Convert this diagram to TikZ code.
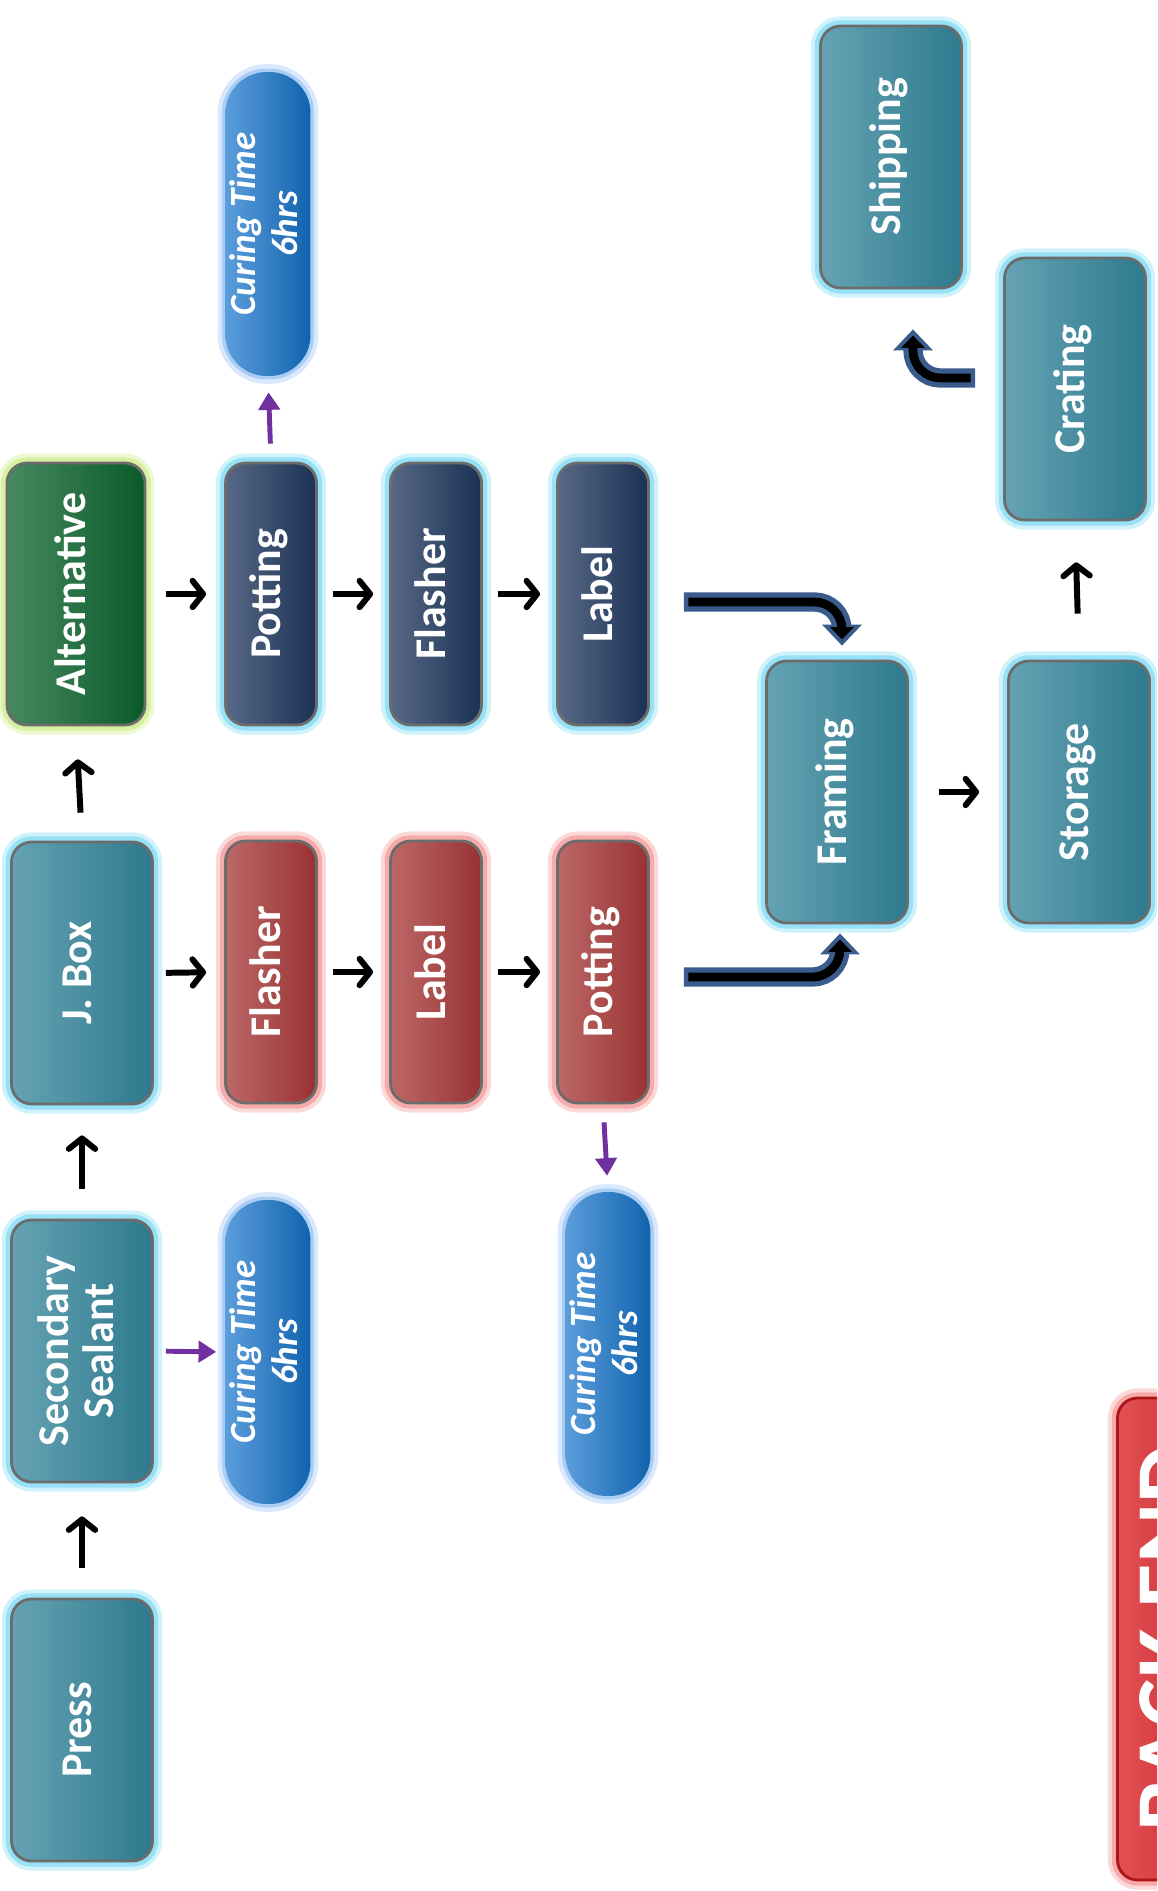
\documentclass[tikz,border=0pt]{standalone}
\usepackage{fontspec}
\setmainfont{Carlito}
\usepackage{xcolor}
\usetikzlibrary{arrows.meta,positioning}

\definecolor{tealbox}{RGB}{50,132,154}
\definecolor{navybox}{RGB}{30,54,92}
\definecolor{redbox}{RGB}{166,54,54}
\definecolor{greenbox}{RGB}{10,98,44}
\definecolor{curebox}{RGB}{20,116,204}
\definecolor{backred}{RGB}{215,25,30}
\definecolor{cyanglow}{RGB}{150,225,246}
\definecolor{pinkglow}{RGB}{246,170,170}
\definecolor{limeglow}{RGB}{215,240,160}
\definecolor{blueglow}{RGB}{170,205,246}
\definecolor{purplearr}{RGB}{112,48,160}
\definecolor{bentblue}{RGB}{58,92,140}

\newcommand{\rottext}[1]{\rotatebox{90}{\begin{tabular}{@{}c@{}}#1\end{tabular}}}

\tikzset{
  box/.style 2 args={rectangle,rounded corners=0.4cm,inner sep=0pt,
    minimum width=2.82cm,minimum height=5.24cm,text=white,
    font=\fontsize{25}{26}\selectfont\bfseries,
    draw=gray!85!black,line width=1.6pt,
    left color=#1!75!white,middle color=#1,right color=#1!92!black,
    preaction={draw=#2!45!white,line width=11pt},
    preaction={draw=#2,line width=6.5pt}},
  cure/.style={rectangle,rounded corners=0.82cm,inner sep=0pt,
    minimum width=1.7cm,minimum height=6.08cm,text=white,
    font=\fontsize{21}{24}\selectfont\bfseries\itshape,
    left color=curebox!70!white,middle color=curebox,right color=curebox!85!black,
    preaction={draw=blueglow!45!white,line width=9pt},
    preaction={draw=blueglow,line width=4pt}},
  arr/.style={line width=3.4pt,-{Straight Barb[round,length=6pt,width=15pt]}},
  parr/.style={draw=purplearr,line width=2.8pt,-{Triangle[length=10pt,width=12pt]}},
  bentout/.style={draw=bentblue,line width=11pt,rounded corners=0.55cm,
    -{Triangle[length=12pt,width=22pt]}},
  bentin/.style={draw=black,line width=5pt,rounded corners=0.55cm,
    shorten >=3.5pt,shorten <=2.5pt,-{Triangle[length=7pt,width=13pt]}}
}

\begin{document}
\begin{tikzpicture}[x=0.02cm,y=-0.02cm]
\useasboundingbox (0,0) rectangle (1157,1891);
\clip (0,0) rectangle (1157,1891);

\node[box={tealbox}{cyanglow}] (1) at (82,1730) {\rottext{Press}};
\node[box={tealbox}{cyanglow}] (2) at (82,1351) {\rottext{Secondary\\Sealant}};
\node[box={tealbox}{cyanglow}] (3) at (82,973) {\rottext{J. Box}};
\node[box={greenbox}{limeglow},minimum width=2.76cm] (4) at (76,594) {\rottext{Alternative}};
\node[cure] (5) at (268,224) {\rottext{Curing Time\\6hrs}};
\node[box={navybox}{cyanglow},minimum width=1.82cm] (6) at (271,594) {\rottext{Potting}};
\node[box={navybox}{cyanglow},minimum width=1.82cm] (7) at (436,594) {\rottext{Flasher}};
\node[box={navybox}{cyanglow},minimum width=1.82cm] (8) at (603,594) {\rottext{Label}};
\node[box={redbox}{pinkglow},minimum width=1.82cm] (9) at (271,972) {\rottext{Flasher}};
\node[box={redbox}{pinkglow},minimum width=1.82cm] (10) at (436,972) {\rottext{Label}};
\node[box={redbox}{pinkglow},minimum width=1.82cm] (11) at (603,972) {\rottext{Potting}};
\node[cure] (12) at (268,1352) {\rottext{Curing Time\\6hrs}};
\node[cure] (13) at (608,1344) {\rottext{Curing Time\\6hrs}};
\node[box={tealbox}{cyanglow}] (14) at (837,792) {\rottext{Framing}};
\node[box={tealbox}{cyanglow}] (15) at (1079,792) {\rottext{Storage}};
\node[box={tealbox}{cyanglow}] (16) at (1075,389) {\rottext{Crating}};
\node[box={tealbox}{cyanglow}] (17) at (891,157) {\rottext{Shipping}};
\node[box={backred}{pinkglow},minimum width=2.5cm,minimum height=9.64cm,
  draw=backred!80!black,font=\fontsize{52}{56}\selectfont\bfseries] (18) at (1180,1639) {\rottext{BACK END}};

\draw[arr,shorten <=0.6cm,shorten >=0.66cm] (1.north) -- (2.south);
\draw[arr,shorten <=0.6cm,shorten >=0.6cm] (2.north) -- (3.south);
\draw[arr,shorten <=0.56cm,shorten >=0.66cm] (3.north) -- (4.south);
\draw[arr,shorten <=0.4cm,shorten >=0.36cm] (4.east) -- (6.west);
\draw[arr,shorten <=0.3cm,shorten >=0.32cm] (6.east) -- (7.west);
\draw[arr,shorten <=0.3cm,shorten >=0.32cm] (7.east) -- (8.west);
\draw[arr,shorten <=0.24cm,shorten >=0.36cm] (3.east) -- (9.west);
\draw[arr,shorten <=0.3cm,shorten >=0.32cm] (9.east) -- (10.west);
\draw[arr,shorten <=0.3cm,shorten >=0.32cm] (10.east) -- (11.west);
\draw[arr,shorten <=0.6cm,shorten >=0.56cm] (14.east) -- (15.west);
\draw[arr,shorten <=0.92cm,shorten >=0.82cm] (15.north) -- (16.south);

\draw[parr,shorten <=0.36cm,shorten >=0.32cm] (6.north) -- (5.south);
\draw[parr,shorten <=0.24cm,shorten >=0.18cm] (2.east) -- (12.west);
\draw[parr,shorten <=0.36cm,shorten >=0.32cm] (11.south) -- (13.north);

\draw[bentout] ([xshift=0.68cm,yshift=-0.16cm]8.east) -| ([xshift=0.1cm,yshift=0.28cm]14.north);
\draw[bentin] ([xshift=0.68cm,yshift=-0.16cm]8.east) -| ([xshift=0.1cm,yshift=0.28cm]14.north);
\draw[bentout] ([xshift=0.68cm,yshift=-0.1cm]11.east) -| ([xshift=0.06cm,yshift=-0.18cm]14.south);
\draw[bentin] ([xshift=0.68cm,yshift=-0.1cm]11.east) -| ([xshift=0.06cm,yshift=-0.18cm]14.south);
\draw[bentout] ([xshift=-0.56cm,yshift=0.22cm]16.west) -| ([xshift=0.44cm,yshift=-0.8cm]17.south);
\draw[bentin] ([xshift=-0.56cm,yshift=0.22cm]16.west) -| ([xshift=0.44cm,yshift=-0.8cm]17.south);

\end{tikzpicture}
\end{document}
